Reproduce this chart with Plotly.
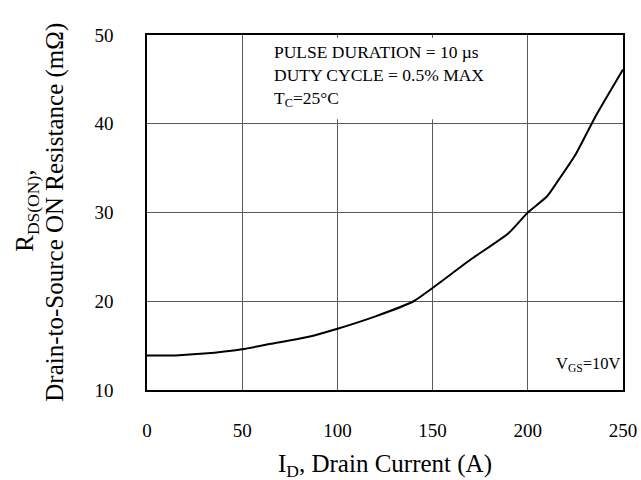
import plotly.graph_objects as go

drain_current = [0, 15, 30, 50, 65, 85, 100, 120, 140, 150, 170, 190, 200, 210, 215, 225, 235, 242, 250]
rds_on = [13.9, 13.9, 14.1, 14.6, 15.2, 16.0, 16.9, 18.3, 20.0, 21.5, 24.7, 27.7, 30.0, 31.8, 33.3, 36.5, 40.6, 43.2, 46.1]

x_ticks = [0, 50, 100, 150, 200, 250]
y_ticks = [10, 20, 30, 40, 50]

FONT = "Liberation Serif, Times New Roman, serif"

fig = go.Figure()
fig.add_trace(go.Scatter(x=drain_current, y=rds_on, mode="lines",
                         line=dict(color="black", width=2, shape="spline", smoothing=0.6),
                         showlegend=False))

axis_common = dict(showgrid=True, gridcolor="#5a5a5a", gridwidth=1,
                   showline=True, linecolor="black", linewidth=1.5, mirror=True,
                   ticks="", zeroline=False, automargin=False,
                   tickfont=dict(family=FONT, size=19, color="black"))

fig.update_xaxes(range=[0, 250], tickvals=x_ticks, ticklabelstandoff=22, **axis_common)
fig.update_yaxes(range=[10, 50], tickvals=y_ticks, ticklabelstandoff=28, **axis_common)

# white box behind the test-condition text
fig.add_shape(type="rect", xref="x", yref="y", x0=51, x1=199, y0=40.5, y1=49.7,
              fillcolor="white", line=dict(width=0), layer="above")

fig.add_annotation(xref="paper", yref="paper", x=0.2627, y=0.986, xanchor="left", yanchor="top",
                   align="left", showarrow=False,
                   text="PULSE DURATION = 10 µs<br>DUTY CYCLE = 0.5% MAX<br>T<sub>C</sub>=25°C",
                   font=dict(family=FONT, size=17.5, color="black"))

fig.add_annotation(xref="paper", yref="paper", x=0.998, y=0.072, xanchor="right", yanchor="middle",
                   showarrow=False, text="V<sub>GS</sub>=10V",
                   font=dict(family=FONT, size=16.5, color="black"))

# axis titles
fig.add_annotation(xref="paper", yref="paper", x=0.5, y=-0.214, xanchor="center", yanchor="middle",
                   showarrow=False, text="I<sub>D</sub>, Drain Current (A)",
                   font=dict(family=FONT, size=25, color="black"))
fig.add_annotation(xref="paper", yref="paper", x=-0.252, y=0.505, xanchor="center", yanchor="middle",
                   showarrow=False, textangle=-90, text="R<sub>DS(ON)</sub>,",
                   font=dict(family=FONT, size=25, color="black"))
fig.add_annotation(xref="paper", yref="paper", x=-0.195, y=0.5, xanchor="center", yanchor="middle",
                   showarrow=False, textangle=-90, text="Drain-to-Source ON Resistance (mΩ)",
                   font=dict(family=FONT, size=25, color="black"))

fig.update_layout(width=641, height=480, margin=dict(l=147, r=18, t=35, b=90, autoexpand=False),
                  plot_bgcolor="white", paper_bgcolor="white",
                  font=dict(family=FONT, color="black"))

# remove the browser's default 8px body margin so the 641x480 figure fills the window exactly
fig.write_html("out.html", config={"displayModeBar": False},
               post_script="document.body.style.margin='0';document.body.style.overflow='hidden';")
